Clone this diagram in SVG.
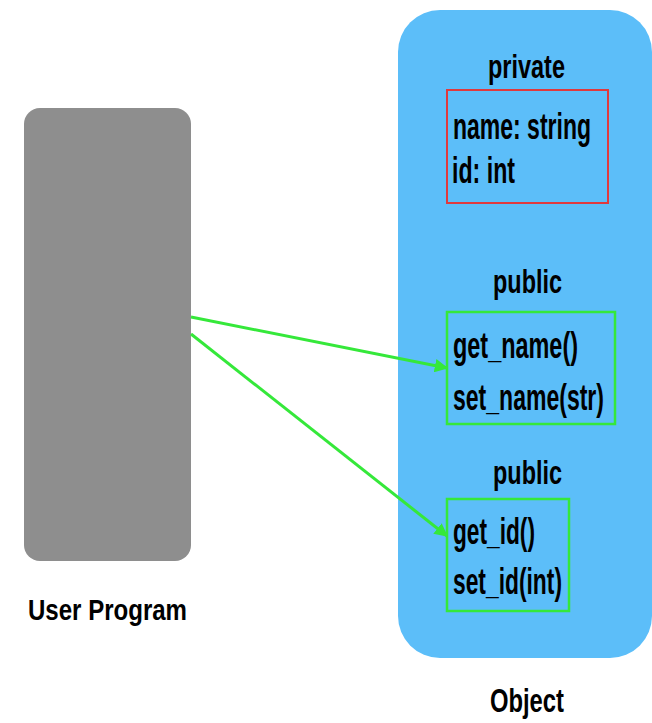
<svg xmlns="http://www.w3.org/2000/svg" width="652" height="723" viewBox="0 0 652 723">
<style>
text{font-family:"Liberation Sans",Arial,sans-serif;font-weight:bold;fill:#000}
.m{font-size:36px}
.h{font-size:34px}
.lbl{font-size:30px}
.obj{font-size:33px}
.conn{stroke:#35e83a;stroke-width:3;fill:none}
</style>
<defs>
<marker id="ah" viewBox="0 0 10 10" refX="9" refY="5" markerWidth="4.5" markerHeight="4.5" orient="auto" markerUnits="strokeWidth">
<path d="M0,0 L10,5 L0,10 z" fill="#35e83a"/>
</marker>
</defs>
<rect width="652" height="723" fill="#fff"/>
<g id="user-program">
<rect x="24" y="108" width="167" height="453" rx="16" fill="#8e8e8e"/>
<text class="lbl" x="28" y="620" textLength="159" lengthAdjust="spacingAndGlyphs">User Program</text>
</g>
<g id="object">
<rect x="398" y="10" width="254" height="648" rx="42" fill="#5cbef9"/>
<text class="obj" x="490" y="712" textLength="74" lengthAdjust="spacingAndGlyphs">Object</text>
</g>
<g id="private">
<text class="h" x="488" y="78" textLength="77" lengthAdjust="spacingAndGlyphs">private</text>
<rect x="447" y="90" width="161" height="113" fill="none" stroke="#e0393e" stroke-width="2"/>
<text class="m" x="453" y="139" textLength="138" lengthAdjust="spacingAndGlyphs">name: string</text>
<text class="m" x="452" y="183" textLength="63" lengthAdjust="spacingAndGlyphs">id: int</text>
</g>
<g id="public-name">
<text class="h" x="493" y="293" textLength="69" lengthAdjust="spacingAndGlyphs">public</text>
<rect x="447" y="312" width="168" height="112" fill="none" stroke="#35e83a" stroke-width="2.5"/>
<text class="m" x="453" y="358" textLength="125" lengthAdjust="spacingAndGlyphs">get_name()</text>
<text class="m" x="453" y="410" textLength="151" lengthAdjust="spacingAndGlyphs">set_name(str)</text>
</g>
<g id="public-id">
<text class="h" x="493" y="484" textLength="69" lengthAdjust="spacingAndGlyphs">public</text>
<rect x="447" y="499" width="122" height="112" fill="none" stroke="#35e83a" stroke-width="2.5"/>
<text class="m" x="453" y="544" textLength="82" lengthAdjust="spacingAndGlyphs">get_id()</text>
<text class="m" x="453" y="594" textLength="109" lengthAdjust="spacingAndGlyphs">set_id(int)</text>
</g>
<g id="connectors">
<line class="conn" x1="191" y1="317" x2="447" y2="368" marker-end="url(#ah)"/>
<line class="conn" x1="191" y1="334" x2="447" y2="536" marker-end="url(#ah)"/>
</g>
</svg>
